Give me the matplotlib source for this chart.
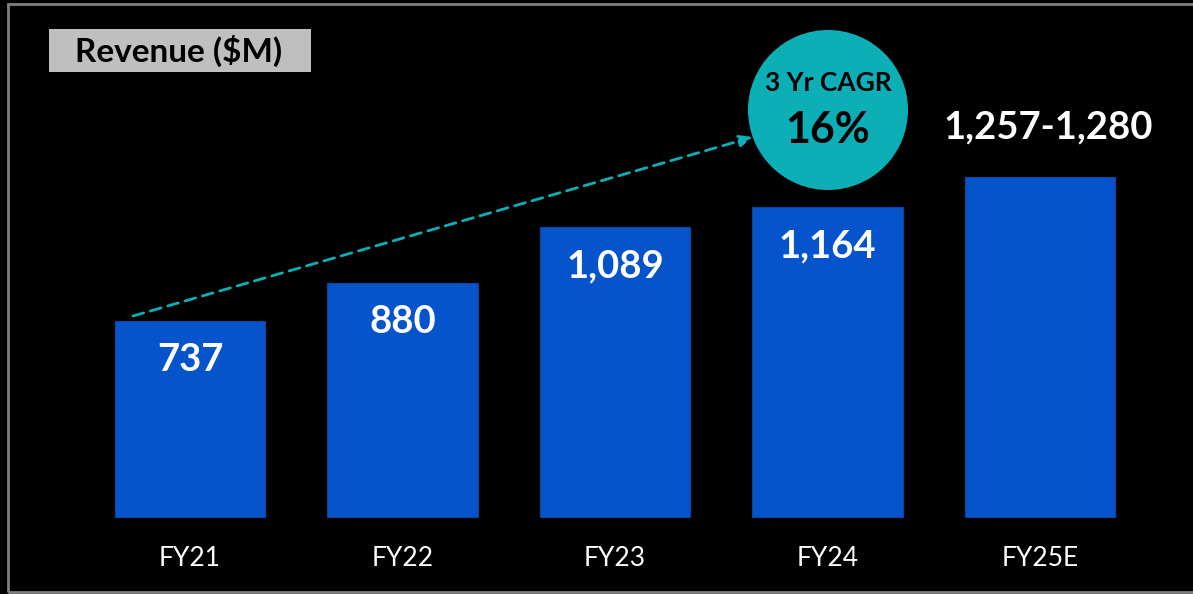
import matplotlib.pyplot as plt
from matplotlib.patches import Rectangle, Ellipse

years = ["FY21", "FY22", "FY23", "FY24", "FY25E"]
revenue = [737, 880, 1089, 1164, 1280]
labels = ["737", "880", "1,089", "1,164", "1,257-1,280"]
cagr_title = "3 Yr CAGR"
cagr_value = "16%"

W, H = 1193, 594
bar_blue = "#0654CC"
teal = "#0DAFB7"

plt.rcParams['font.family'] = ['Lato', 'DejaVu Sans']

fig = plt.figure(figsize=(W / 100, H / 100), dpi=100, facecolor="black")
ax = fig.add_axes([0, 0, 1, 1])
ax.set_facecolor("black")
ax.axis("off")

# scale: 212.5 px between bars, baseline at y=517 px
px_per_unit = 196 / 737
ax.set_xlim(-190 / 212.5, (W - 190) / 212.5)
ax.set_ylim(-(H - 517) / px_per_unit, 517 / px_per_unit)

x = range(len(years))
ax.bar(x, revenue, width=0.706, color=bar_blue, edgecolor="#0A45A0", linewidth=0.8)

for i, (v, lab) in enumerate(zip(revenue, labels)):
    if i < len(years) - 1:
        ax.annotate(lab, (i, v), xytext=(0, -28), textcoords="offset points",
                    ha="center", va="center", color="white",
                    fontsize=27.5, fontweight="bold")
    else:
        # guidance range sits above the estimate bar
        ax.annotate(lab, (i, v), xytext=(6, 35), textcoords="offset points",
                    ha="center", va="center", color="white",
                    fontsize=27.5, fontweight="bold")
    ax.text(i, -(558 - 517) / px_per_unit, years[i], ha="center", va="center",
            color="white", fontsize=19)


def fp(px, py):
    # pixel position (top-left origin) -> figure fraction
    return px / W, 1 - py / H


# outer grey frame
fig.patches.append(Rectangle(fp(8, 592), (W + 10 - 8) / W, (592 - 4) / H,
                             transform=fig.transFigure, fill=False,
                             edgecolor="#7F7F7F", linewidth=2))

# title box
fig.patches.append(Rectangle(fp(49, 72), (311 - 49) / W, (72 - 29) / H,
                             transform=fig.transFigure, facecolor="#BFBFBF",
                             edgecolor="none"))
fig.text(*fp(179, 51), "Revenue ($M)", ha="center", va="center",
         color="black", fontsize=24, fontweight="bold")

# CAGR bubble
fig.patches.append(Ellipse(fp(828, 110), 160 / W, 160 / H,
                           transform=fig.transFigure, facecolor=teal,
                           edgecolor="none", zorder=3))
fig.text(*fp(828, 83), cagr_title, ha="center", va="center", color="black",
         fontsize=19, fontweight="bold", zorder=4)
fig.text(*fp(828, 130), cagr_value, ha="center", va="center", color="black",
         fontsize=31, fontweight="bold", zorder=4)

ax.annotate("", xy=(753, H - 137), xycoords="figure pixels",
            xytext=(133, H - 316), textcoords="figure pixels",
            arrowprops=dict(arrowstyle="-|>,head_length=0.8,head_width=0.35",
                            color=teal, linestyle=(0, (4, 2.5)), linewidth=2,
                            shrinkA=0, shrinkB=0))

fig.savefig("out.png", dpi=100, facecolor="black")
